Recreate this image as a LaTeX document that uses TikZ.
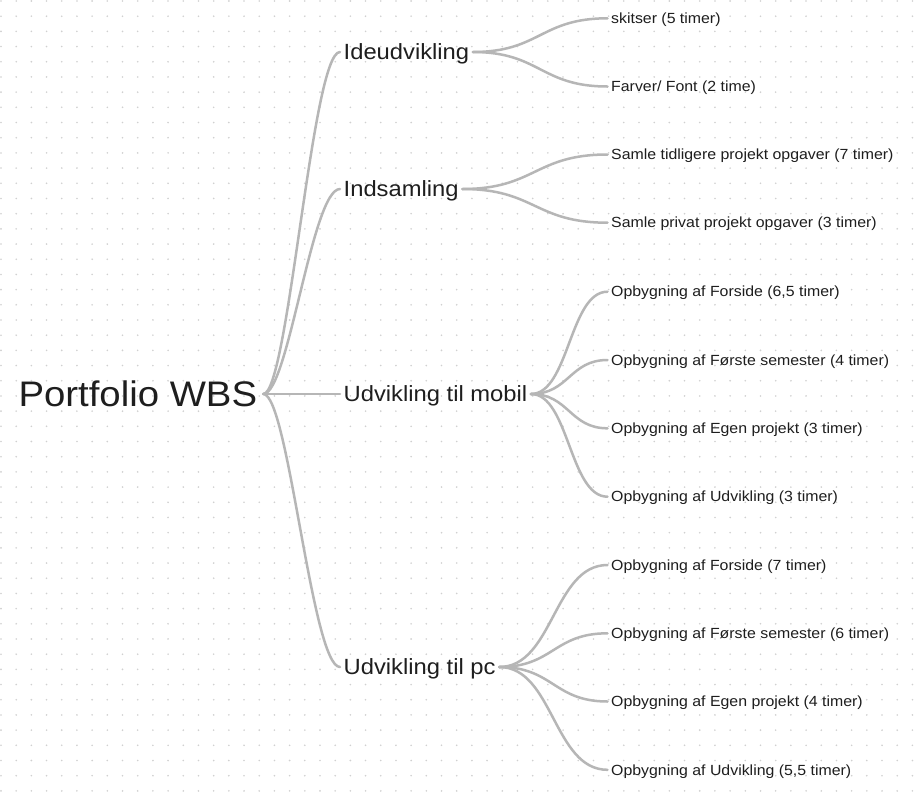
\documentclass[tikz,border=0pt]{standalone}
\usepackage{fontspec}
\setmainfont{Liberation Sans}[FakeStretch=1.08]
\definecolor{linec}{RGB}{182,182,182}
\definecolor{txt}{RGB}{30,30,30}
\definecolor{dotc}{RGB}{208,208,208}
\begin{document}
\begin{tikzpicture}[x=1pt,y=-1pt,
  rootnode/.style={anchor=west, inner xsep=6pt, inner ysep=0pt, text=txt, font=\fontsize{35.5}{40}\selectfont, text height=25.4pt, text depth=0pt},
  lvlone/.style={anchor=west, inner xsep=3.5pt, inner ysep=0pt, text=txt, font=\fontsize{22}{26}\selectfont, text height=15.7pt, text depth=0pt},
  lvltwo/.style={anchor=west, inner xsep=3.5pt, inner ysep=0pt, text=txt, font=\fontsize{14.7}{17}\selectfont, text height=10.5pt, text depth=0pt},
  conn/.style={draw=linec, line width=2.5pt, line cap=round}]
\fill[white] (0,0) rectangle (915,793);
\useasboundingbox (0,0) rectangle (915,793);
\foreach \i in {0,...,60}{
  \foreach \j in {0,...,52}{
    \fill[dotc] ({1+15.19*\i},{1+15.19*\j}) circle[radius=0.9pt];
  }
}
% root
\node[rootnode] (root) at (12.3,394) {Portfolio WBS};
% level 1
\node[lvlone] (ide) at (340,52) {Ideudvikling};
\node[lvlone] (ind) at (340,189) {Indsamling};
\node[lvlone] (mob) at (340,394) {Udvikling til mobil};
\node[lvlone] (pc)  at (340,667) {Udvikling til pc};
% level 2
\node[lvltwo] (a1) at (607.5,18.3) {skitser (5 timer)};
\node[lvltwo] (a2) at (607.5,86.5) {Farver/ Font (2 time)};
\node[lvltwo] (b1) at (607.5,154.5) {Samle tidligere projekt opgaver (7 timer)};
\node[lvltwo] (b2) at (607.5,222.7) {Samle privat projekt opgaver (3 timer)};
\node[lvltwo] (c1) at (607.5,291.7) {Opbygning af Forside (6,5 timer)};
\node[lvltwo] (c2) at (607.5,360) {Opbygning af Første semester (4 timer)};
\node[lvltwo] (c3) at (607.5,428.3) {Opbygning af Egen projekt (3 timer)};
\node[lvltwo] (c4) at (607.5,496.7) {Opbygning af Udvikling (3 timer)};
\node[lvltwo] (d1) at (607.5,565) {Opbygning af Forside (7 timer)};
\node[lvltwo] (d2) at (607.5,633.3) {Opbygning af Første semester (6 timer)};
\node[lvltwo] (d3) at (607.5,701.5) {Opbygning af Egen projekt (4 timer)};
\node[lvltwo] (d4) at (607.5,769.8) {Opbygning af Udvikling (5,5 timer)};
% root connectors
\draw[conn] (root.east) .. controls +(25,0) and +(-28,0) .. (ide.west);
\draw[conn] (root.east) .. controls +(25,0) and +(-28,0) .. (ind.west);
\draw[conn] (root.east) -- (mob.west);
\draw[conn] (root.east) .. controls +(25,0) and +(-28,0) .. (pc.west);
% level 1 connectors
\foreach \c in {a1,a2}{\draw[conn] (ide.east) .. controls +(67,0) and +(-67,0) .. (\c.west);}
\foreach \c in {b1,b2}{\draw[conn] (ind.east) .. controls +(73,0) and +(-73,0) .. (\c.west);}
\foreach \c in {c1,c2,c3,c4}{\draw[conn] (mob.east) .. controls +(38,0) and +(-38,0) .. (\c.west);}
\foreach \c in {d1,d2,d3,d4}{\draw[conn] (pc.east) .. controls +(54,0) and +(-54,0) .. (\c.west);}
\end{tikzpicture}
\end{document}
